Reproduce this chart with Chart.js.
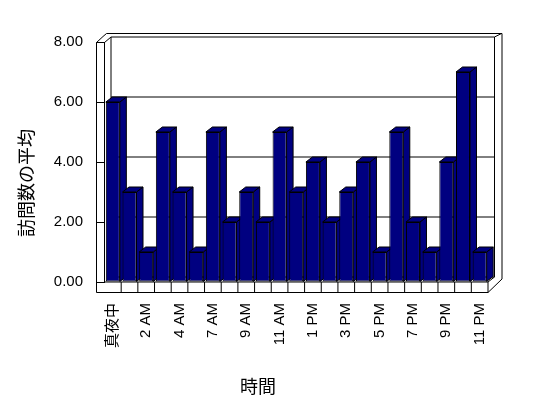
<!DOCTYPE html>
<html>
<head>
<meta charset="utf-8">
<script src="https://cdn.jsdelivr.net/npm/chart.js@4/dist/chart.umd.min.js"></script>
<style>
  html, body { margin: 0; padding: 0; background: #fff; }
  #wrap { width: 548px; height: 398px; }
</style>
</head>
<body>
<div id="wrap"><canvas id="grafico"></canvas></div>
<script>
// Dati: media delle visite per ora
const ore = ["真夜中", "1 AM", "2 AM", "3 AM", "4 AM", "5 AM", "7 AM", "8 AM", "9 AM", "10 AM", "11 AM", "正午",
             "1 PM", "2 PM", "3 PM", "4 PM", "5 PM", "6 PM", "7 PM", "8 PM", "9 PM", "10 PM", "11 PM"];
const visiteMedie = [6, 3, 1, 5, 3, 1, 5, 2, 3, 2, 5, 3, 4, 2, 3, 4, 1, 5, 2, 1, 4, 7, 1];
const tickValori = [0, 2, 4, 6, 8];
const titoloY = "訪問数の平均";
const titoloX = "時間";

const BLU = "#000080";
const DX = 6.5, DY = -5;   // profondita' 3D

function linea(ctx, pts) {
    ctx.beginPath();
    ctx.moveTo(pts[0][0], pts[0][1]);
    for (let i = 1; i < pts.length; i++) ctx.lineTo(pts[i][0], pts[i][1]);
    ctx.stroke();
}

function poligono(ctx, pts) {
    ctx.beginPath();
    ctx.moveTo(pts[0][0], pts[0][1]);
    for (let i = 1; i < pts.length; i++) ctx.lineTo(pts[i][0], pts[i][1]);
    ctx.closePath();
    ctx.fill();
    ctx.stroke();
}

// Pareti, pavimento e titoli
const cornice = {
    id: "cornice",
    beforeDraw(chart) {
        const ctx = chart.ctx;
        const { left: L, right: R, top: T, bottom: B } = chart.chartArea;
        const y = chart.scales.y, x = chart.scales.x;
        ctx.save();
        ctx.fillStyle = "#fff";
        ctx.fillRect(0, 0, chart.width, chart.height);
        ctx.strokeStyle = "#000";
        ctx.lineWidth = 1;

        const oL = L - 8;          // bordo esterno parete sinistra
        const fB = B + 10.5;       // bordo anteriore pavimento
        // parete di fondo
        linea(ctx, [[L + DX, B + DY], [L + DX, T + DY], [R + DX, T + DY], [R + DX, B + DY], [L + DX, B + DY]]);
        tickValori.slice(1, -1).forEach(v => {
            const py = y.getPixelForValue(v) + DY;
            linea(ctx, [[L + DX, py], [R + DX, py]]);
        });
        // spessore parete di fondo
        linea(ctx, [[oL, T + 0.5], [oL + 6.5, T - 5.5], [oL + 10, T - 8.5], [R + 14, T - 8.5], [R + 14, B - 3]]);
        linea(ctx, [[R + DX, T + DY], [R + 13.5, T - 8.5]]);
        // parete sinistra
        linea(ctx, [[oL, T + 0.5], [L, T + 0.5], [L + DX, T + DY]]);
        linea(ctx, [[oL, T + 0.5], [oL, fB]]);
        linea(ctx, [[L, T + 0.5], [L, B]]);
        // pavimento
        linea(ctx, [[L, B], [R, B], [R, fB], [oL, fB]]);
        linea(ctx, [[R, B], [R + DX, B + DY]]);
        linea(ctx, [[R, fB], [R + 14, B - 3]]);
        const w = (R - L) / ore.length;
        for (let i = 1; i < ore.length; i++) {
            const px = x.getPixelForValue(i) - w / 2;
            linea(ctx, [[px, B], [px, fB]]);
        }

        // titoli degli assi
        ctx.fillStyle = "#000";
        ctx.font = '18px "Noto Sans CJK JP"';
        ctx.textAlign = "center";
        ctx.textBaseline = "middle";
        ctx.fillText(titoloX, 258, 386);
        ctx.translate(26, 183);
        ctx.rotate(-Math.PI / 2);
        ctx.fillText(titoloY, 0, 0);
        ctx.restore();
    }
};

// Barre in 3D: fianco e cima, poi la faccia anteriore della libreria
const barre3d = {
    id: "barre3d",
    beforeDatasetDraw(chart, args) {
        const ctx = chart.ctx;
        ctx.save();
        ctx.strokeStyle = "#000";
        ctx.lineWidth = 1;
        ctx.fillStyle = BLU;
        args.meta.data.forEach(bar => {
            const { x, y, base, width } = bar.getProps(["x", "y", "base", "width"], true);
            const l = x - width / 2, r = x + width / 2;
            poligono(ctx, [[r, y], [r + DX, y + DY], [r + DX, base + DY], [r, base]]);
            poligono(ctx, [[l, y], [l + DX, y + DY], [r + DX, y + DY], [r, y]]);
            bar.draw(ctx, chart.chartArea);
        });
        ctx.restore();
        return false;
    }
};

const ctx = document.getElementById("grafico").getContext("2d");
new Chart(ctx, {
    type: "bar",
    data: {
        labels: ore,
        datasets: [{
            data: visiteMedie,
            backgroundColor: BLU,
            borderColor: "#000",
            borderWidth: 1,
            borderSkipped: false,
            barPercentage: 0.84,
            categoryPercentage: 1
        }]
    },
    options: {
        responsive: true,
        maintainAspectRatio: false,
        animation: false,
        layout: { padding: { top: 42, right: 60, left: 0, bottom: 0 } },
        plugins: { legend: { display: false }, tooltip: { enabled: false } },
        scales: {
            x: {
                grid: { display: false, drawTicks: false },
                border: { display: false },
                afterFit: s => { s.height = 116; },
                ticks: {
                    autoSkip: false,
                    maxRotation: 90,
                    minRotation: 90,
                    padding: 21,
                    color: "#000",
                    font: { family: '"Liberation Sans", "Noto Sans CJK JP", sans-serif', size: 15 },
                    callback: (v, i) => (i % 2 === 0 ? ore[i] : "")
                }
            },
            y: {
                min: 0,
                max: 8,
                afterFit: s => { s.width = 104.5; },
                afterBuildTicks: s => { s.ticks = tickValori.map(v => ({ value: v })); },
                grid: { drawOnChartArea: false, tickLength: 8, color: "#000" },
                border: { display: false },
                ticks: {
                    padding: 13.5,
                    color: "#000",
                    font: { family: '"Liberation Sans", sans-serif', size: 15 },
                    callback: v => v.toFixed(2)
                }
            }
        }
    },
    plugins: [cornice, barre3d]
});
</script>
</body>
</html>
